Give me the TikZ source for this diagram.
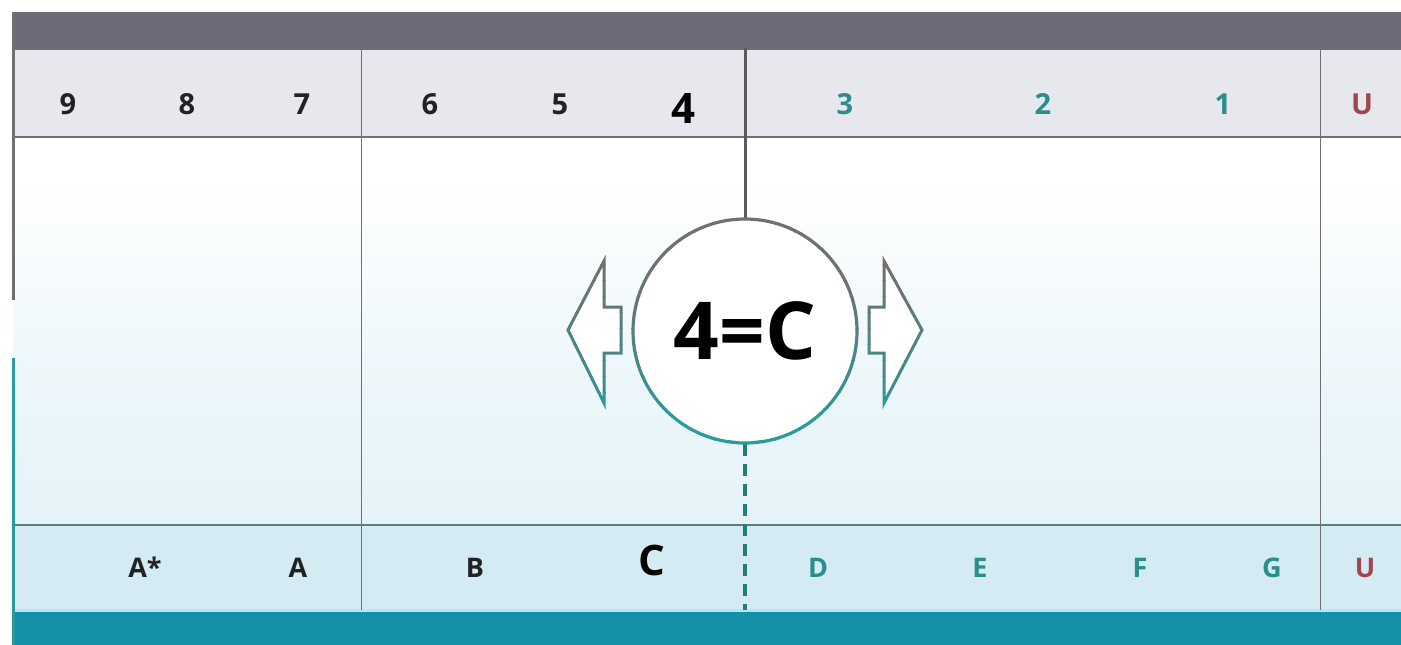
\documentclass[tikz,border=0pt]{standalone}
\usepackage{fontspec}
\setmainfont{Open Sans}
\usetikzlibrary{calc}
\definecolor{barg}{HTML}{6D6B77}
\definecolor{rowg}{HTML}{E7E7EE}
\definecolor{rowb}{HTML}{D4EBF3}
\definecolor{midb}{HTML}{D8EDF5}
\definecolor{tealbar}{HTML}{1490A7}
\definecolor{tealln}{HTML}{2A9A9C}
\definecolor{tealtx}{HTML}{2A8E8C}
\definecolor{redtx}{HTML}{A0464E}
\definecolor{lineg}{HTML}{707070}
\definecolor{darktx}{HTML}{222222}
\pgfdeclareverticalshading{midshade}{100bp}{color(0bp)=(midb); color(45bp)=(midb!45!white); color(70bp)=(white); color(100bp)=(white!97!rowg)}
\tikzset{
  lbl/.style={font=\bfseries\fontsize{29}{29}\selectfont, text=darktx, inner sep=0pt, anchor=base},
  lblb/.style={font=\bfseries\fontsize{27}{27}\selectfont, text=darktx, inner sep=0pt, anchor=base},
  biglbl/.style={font=\bfseries\fontsize{42}{42}\selectfont, text=black, inner sep=0pt, anchor=base},
  sep/.style={draw=lineg, line width=1.3pt},
}
\begin{document}
\begin{tikzpicture}[x=1pt,y=-1pt]
\useasboundingbox (0,0) rectangle (1401,645);
\fill[white] (0,0) rectangle (1401,645);
% middle gradient
\shade[shading=midshade] (13,137) rectangle (1401,525);
% rows
\fill[rowg] (13,50) rectangle (1401,137);
\fill[rowb] (13,525) rectangle (1401,610);
% bars
\fill[barg] (12,12) rectangle (1401,50);
\fill[tealbar] (12,612) rectangle (1401,645);
\fill[cyan!30] (13,609) rectangle (1401,612);
% horizontal separators
\draw[sep] (13,137) -- (1401,137);
\draw[draw=lineg!70!tealln, line width=1.3pt] (13,525) -- (1401,525);
% vertical separators
\draw[draw=lineg, line width=1pt] (361,48) -- (361,610);
\draw[draw=lineg, line width=1pt] (1320,48) -- (1320,610);
% left border
\draw[draw=lineg, line width=3pt] (13.5,12) -- (13.5,300);
\draw[draw=tealln, line width=3pt] (13.5,358) -- (13.5,645);
% circle
\node[circle, fill=white, minimum size=226pt, inner sep=0pt] (c) at (745,331) {};
\coordinate (ctop) at (745,48);
\coordinate (cbot) at (745,610);
\draw[draw=lineg!80!black, line width=3pt] (ctop) -- (c.north);
\draw[draw=tealln!80!black, line width=3.2pt, dash pattern=on 12pt off 8pt] (c.south) -- (cbot);
% arrows fill
\fill[white] (568,330) -- (604,261) -- (604,307) -- (621,307) -- (621,353) -- (604,353) -- (604,403) -- cycle;
\fill[white] (922,330) -- (884,261) -- (884,307) -- (869,307) -- (869,353) -- (884,353) -- (884,403) -- cycle;
% gradient strokes
\foreach \i in {0,...,15}{
  \pgfmathsetmacro{\ya}{200+\i*16}
  \pgfmathsetmacro{\yb}{\ya+16}
  \pgfmathtruncatemacro{\p}{max(0,min(100,(\ya+8-280)/1.4))}
  \begin{scope}
    \clip (500,\ya) rectangle (1000,\yb);
    \draw[draw=tealln!\p!lineg, line width=3.2pt] (c) circle[radius=112pt];
    \draw[draw=tealln!\p!lineg, line width=3pt, line join=miter] (568,330) -- (604,261) -- (604,307) -- (621,307) -- (621,353) -- (604,353) -- (604,403) -- cycle;
    \draw[draw=tealln!\p!lineg, line width=3pt, line join=miter] (922,330) -- (884,261) -- (884,307) -- (869,307) -- (869,353) -- (884,353) -- (884,403) -- cycle;
  \end{scope}
}
\node[font=\bfseries\fontsize{80}{80}\selectfont, text=black, inner sep=0pt] (ct) at (c.center) {4=C};
% top labels
\node[lbl] (t9) at (68,114) {9};
\node[lbl] (t8) at (187,114) {8};
\node[lbl] (t7) at (302,114) {7};
\node[lbl] (t6) at (430,114) {6};
\node[lbl] (t5) at (560,114) {5};
\node[biglbl] (t4) at (683,123) {4};
\node[lbl, text=tealtx] (t3) at (845,114) {3};
\node[lbl, text=tealtx] (t2) at (1043,114) {2};
\node[lbl, text=tealtx] (t1) at (1223,114) {1};
\node[lbl, text=redtx] (tu) at (1362,114) {U};
% bottom labels
\node[lblb] (ba) at (145,577) {A*};
\node[lblb] (bA) at (298,577) {A};
\node[lblb] (bB) at (475,577) {B};
\node[biglbl] (bC) at (652,575) {C};
\node[lblb, text=tealtx] (bD) at (818,577) {D};
\node[lblb, text=tealtx] (bE) at (980,577) {E};
\node[lblb, text=tealtx] (bF) at (1140,577) {F};
\node[lblb, text=tealtx] (bG) at (1272,577) {G};
\node[lblb, text=redtx] (bU) at (1365,577) {U};
\end{tikzpicture}
\end{document}
